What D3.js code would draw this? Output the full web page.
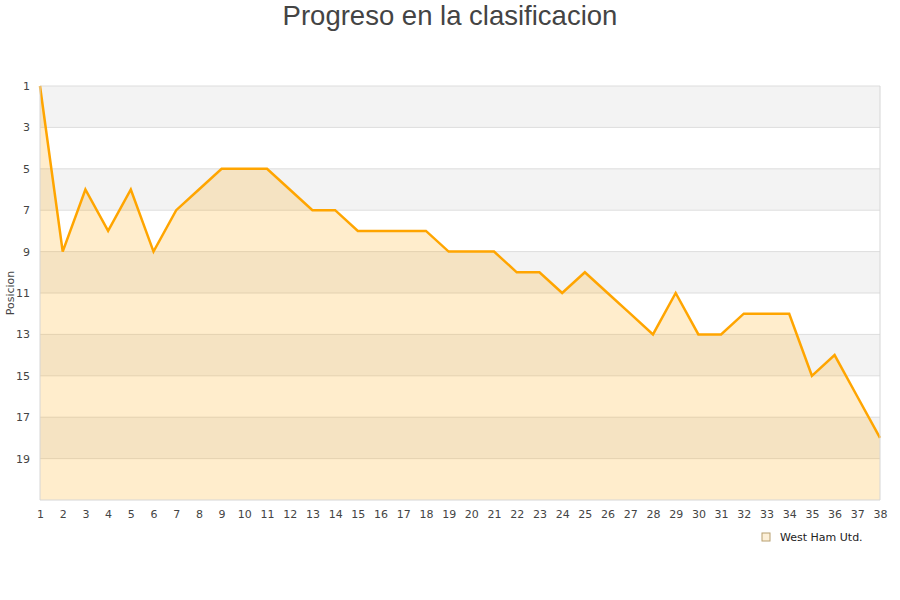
<!DOCTYPE html>
<html>
<head>
<meta charset="utf-8">
<script src="https://cdn.jsdelivr.net/npm/d3@7"></script>
<style>
  body { margin: 0; background: #fff; }
  text { font-family: "DejaVu Sans", sans-serif; }
</style>
</head>
<body>
<div id="chart"></div>
<script>
const jornadas = d3.range(1, 39);
const posiciones = [1, 9, 6, 8, 6, 9, 7, 6, 5, 5, 5, 6, 7, 7, 8, 8, 8, 8, 9, 9, 9, 10, 10, 11, 10, 11, 12, 13, 11, 13, 13, 12, 12, 12, 15, 14, 16, 18];
const yTicks = [1, 3, 5, 7, 9, 11, 13, 15, 17, 19];
const equipo = "West Ham Utd.";

const width = 900, height = 600;
const margin = { top: 86, right: 20, bottom: 100, left: 40 };

const svg = d3.select("#chart").append("svg")
  .attr("width", width)
  .attr("height", height);

const x = d3.scaleLinear().domain([1, 38]).range([margin.left, width - margin.right]);
const y = d3.scaleLinear().domain([1, 21]).range([margin.top, height - margin.bottom]);

// bandas alternas
svg.append("g").selectAll("rect")
  .data(yTicks)
  .enter().append("rect")
  .attr("x", x(1))
  .attr("y", d => y(d))
  .attr("width", x(38) - x(1))
  .attr("height", d => y(d + 2) - y(d))
  .attr("fill", (d, i) => i % 2 === 0 ? "#f3f3f3" : "#ffffff");

// grid
svg.append("g").selectAll("line")
  .data(yTicks)
  .enter().append("line")
  .attr("x1", x(1)).attr("x2", x(38))
  .attr("y1", d => y(d)).attr("y2", d => y(d))
  .attr("stroke", "#dddddd");

const data = jornadas.map((j, i) => ({ j, p: posiciones[i] }));

const area = d3.area()
  .x(d => x(d.j))
  .y0(y(21))
  .y1(d => y(d.p));

svg.append("path")
  .datum(data)
  .attr("d", area)
  .attr("fill", "#ffa500")
  .attr("fill-opacity", 0.2);

const line = d3.line()
  .x(d => x(d.j))
  .y(d => y(d.p));

svg.append("path")
  .datum(data)
  .attr("d", line)
  .attr("fill", "none")
  .attr("stroke", "#ffa500")
  .attr("stroke-width", 2.5);

// bordes
svg.append("path")
  .attr("d", `M${x(1)},${y(1)}V${y(21)}H${x(38)}V${y(1)}`)
  .attr("fill", "none")
  .attr("stroke", "#d6d6d6");

// ejes
const xAxis = d3.axisBottom(x).tickValues(jornadas).tickFormat(d3.format("d")).tickSize(0).tickPadding(10);
const gx = svg.append("g").attr("transform", `translate(0,${y(21)})`).call(xAxis);
gx.select(".domain").remove();
gx.selectAll("text").attr("fill", "#444").style("font-size", "11px");

const yAxis = d3.axisLeft(y).tickValues(yTicks).tickSize(0).tickPadding(10);
const gy = svg.append("g").attr("transform", `translate(${x(1)},0)`).call(yAxis);
gy.select(".domain").remove();
gy.selectAll("text").attr("fill", "#444").style("font-size", "11px");

// titulos
svg.append("text")
  .attr("x", width / 2)
  .attr("y", 25)
  .attr("text-anchor", "middle")
  .attr("fill", "#444")
  .style("font-family", "'Liberation Sans', Arial, sans-serif")
  .style("font-size", "27.5px")
  .text("Progreso en la clasificacion");

svg.append("text")
  .attr("transform", `translate(14,${(y(1) + y(21)) / 2}) rotate(-90)`)
  .attr("text-anchor", "middle")
  .attr("fill", "#444")
  .style("font-size", "11px")
  .text("Posicion");

// leyenda
const leg = svg.append("g").attr("transform", "translate(762,533)");
leg.append("rect")
  .attr("width", 8).attr("height", 8)
  .attr("fill", "#fdf0d8")
  .attr("stroke", "#b8a070");
leg.append("text")
  .attr("x", 18).attr("y", 8)
  .attr("fill", "#222")
  .style("font-size", "11px")
  .text(equipo);
</script>
</body>
</html>
